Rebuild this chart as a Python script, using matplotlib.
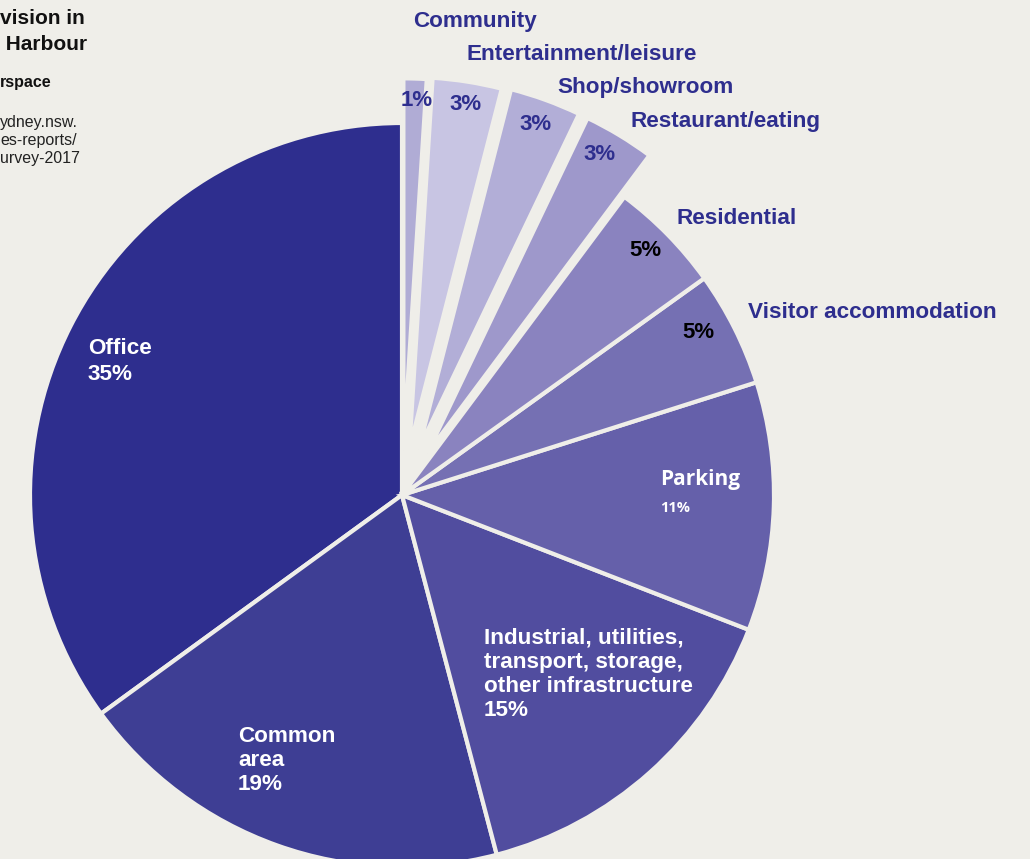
import matplotlib.pyplot as plt

# shares of floorspace (%)
categories = ["Office", "Common area", "Industrial, utilities,\ntransport, storage,\nother infrastructure",
              "Parking", "Visitor accommodation", "Residential", "Restaurant/eating",
              "Shop/showroom", "Entertainment/leisure", "Community"]
shares = [35, 19.1, 15, 10.8, 5, 4.9, 3.1, 3.1, 3.0, 1.0]
pct_labels = ["35%", "19%", "15%", "11%", "5%", "5%", "3%", "3%", "3%", "1%"]
explode = [0, 0, 0, 0, 0, 0, 0.13, 0.13, 0.125, 0.12]
colors = ["#2e2e8e", "#3e3e94", "#514d9f", "#6560aa", "#7570b3",
          "#8a83bf", "#9e98cb", "#b2aed7", "#c8c5e3", "#b0acd5"]

bg = "#efeee9"
navy = "#2e2e8e"
W, H = 1030, 859

fig = plt.figure(figsize=(W / 100, H / 100), dpi=100, facecolor=bg)
ax = fig.add_axes([0, 0, 1, 1])
ax.set_facecolor(bg)

ax.pie(shares, colors=colors, startangle=90, counterclock=True, explode=explode,
       radius=1, wedgeprops=dict(linewidth=3, edgecolor=bg, joinstyle="miter"))

# centre of the pie sits at pixel (402, 495), radius 372 px
cx, cy, r = 402, 495, 372
ax.set_aspect("auto")
ax.set_xlim(-cx / r, (W - cx) / r)
ax.set_ylim(-(H - cy) / r, cy / r)
ax.axis("off")


def put(x, y, s, **kw):
    # place text by pixel position (top-left origin)
    fig.text(x / W, 1 - y / H, s, **kw)


font = "Liberation Sans"
fs = 16.2
lab = dict(family=font, fontsize=fs, fontweight="bold", color=navy, va="center", ha="left")

# outside labels
put(413, 22, categories[9], **lab)
put(467, 55, categories[8], **lab)
put(557, 88, categories[7], **lab)
put(630, 122, categories[6], **lab)
put(676, 218, categories[5], **lab)
put(748, 312, categories[4], **lab)

pct = dict(family=font, fontsize=16, fontweight="bold", va="center", ha="center")
put(417, 100, pct_labels[9], color=navy, **pct)
put(466, 104, pct_labels[8], color=navy, **pct)
put(536, 125, pct_labels[7], color=navy, **pct)
put(599, 155, pct_labels[6], color=navy, **pct)
put(645, 251, pct_labels[5], color="black", **pct)
put(698, 333, pct_labels[4], color="black", **pct)

# inside labels
inner = dict(family=font, fontsize=fs, fontweight="bold", color="white",
             va="center", ha="left")
put(88, 348, categories[0], **inner)
put(88, 375, pct_labels[0], **inner)
for i, line in enumerate(["Common", "area", pct_labels[1]]):
    put(238, 736 + 24.5 * i, line, **inner)
for i, line in enumerate(categories[2].split("\n") + [pct_labels[2]]):
    put(484, 638 + 24.3 * i, line, **inner)
put(660, 480, categories[3], family="Open Sans", fontsize=15, fontweight="bold",
    color="white", va="center", ha="left")
put(660, 508, pct_labels[3], family="Open Sans", fontsize=10.5, fontweight="bold",
    color="white", va="center", ha="left")

# cropped title / notes at the left edge
ink = "#111111"
put(0, 19, "vision in", family=font, fontsize=15, fontweight="bold", color=ink, va="center")
put(0, 45, " Harbour", family=font, fontsize=15, fontweight="bold", color=ink, va="center")
put(0, 82, "rspace", family=font, fontsize=11.5, fontweight="bold", color=ink, va="center")
for i, line in enumerate(["ydney.nsw.", "es-reports/", "urvey-2017"]):
    put(0, 122 + 18.5 * i, line, family=font, fontsize=11.5, color="#222222", va="center")

fig.savefig("out.png", dpi=100, facecolor=bg)
